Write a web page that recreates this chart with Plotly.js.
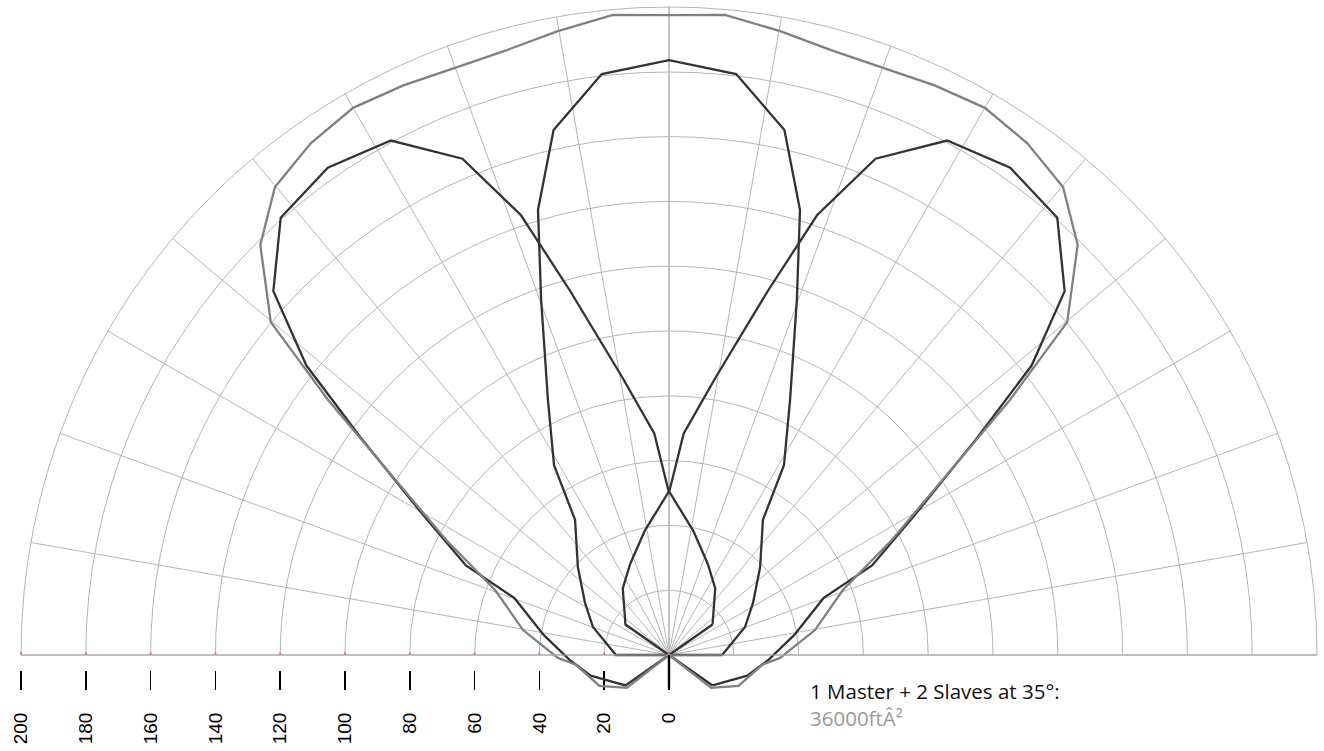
<!DOCTYPE html>
<html>
<head>
<meta charset="utf-8">
<script src="https://cdn.plot.ly/plotly-3.0.1.min.js"></script>
<style>html,body{margin:0;padding:0;background:#fff;}#chart{width:1324px;height:751px;}</style>
</head>
<body>
<div id="chart"></div>
<script>
// ---- data ----
const radialTickVals = [0, 20, 40, 60, 80, 100, 120, 140, 160, 180, 200];
const radialTickText = ["0", "20", "40", "60", "80", "100", "120", "140", "160", "180", "200"];

const centerTheta = [0, 20.2, 31.8, 44.0, 55.2, 58.8, 64.6, 70.2, 73.6, 77.6, 83.4, 90, 96.6, 102.4, 106.4, 109.8, 115.4, 121.2, 124.8, 136.0, 148.2, 159.8, 180, 0];
const centerR     = [16.4, 25.0, 30.5, 39.1, 50.8, 68.5, 87.1, 116.5, 143.2, 165.9, 180.5, 183.6, 180.5, 165.9, 143.2, 116.5, 87.1, 68.5, 50.8, 39.1, 30.5, 25.0, 16.4, 16.4];

const rightTheta = [-35, -14.8, -3.2, 9.0, 20.2, 23.8, 29.6, 35.2, 38.6, 42.6, 48.4, 55, 61.6, 67.4, 71.4, 74.8, 80.4, 86.2, 89.8, 101.0, 113.2, 124.8, 145, -35];
const rightR     = [16.4, 25.0, 30.5, 39.1, 50.8, 68.5, 87.1, 116.5, 143.2, 165.9, 180.5, 183.6, 180.5, 165.9, 143.2, 116.5, 87.1, 68.5, 50.8, 39.1, 30.5, 25.0, 16.4, 16.4];

const leftTheta = [35, 55.2, 66.8, 79.0, 90.2, 93.8, 99.6, 105.2, 108.6, 112.6, 118.4, 125, 131.6, 137.4, 141.4, 144.8, 150.4, 156.2, 159.8, 171.0, 183.2, 194.8, 215, 35];
const leftR     = [16.4, 25.0, 30.5, 39.1, 50.8, 68.5, 87.1, 116.5, 143.2, 165.9, 180.5, 183.6, 180.5, 165.9, 143.2, 116.5, 87.1, 68.5, 50.8, 39.1, 30.5, 25.0, 16.4, 16.4];

const envTheta = [0, -38, -24, -6, -1.5, 9.7, 20.5, 27.3, 36.8, 39.9, 45.1, 49.9, 55.0, 60.0, 65, 69.9, 75.0, 79.9, 85.0, 90, 95, 100.1, 105, 110.1, 115, 120, 125, 130.1, 134.9, 140.1, 143.2, 152.7, 159.5, 170.3, 181.5, 186, 204, 218, 0];
const envR     = [0, 16.5, 23.5, 28.9, 34.3, 45.7, 57.3, 77.4, 131.4, 160.2, 178.7, 188.8, 192.8, 195.0, 194, 192.9, 193.3, 195.6, 198.3, 197.5, 198.3, 195.6, 193.3, 192.9, 194, 195.0, 192.8, 188.8, 178.7, 160.2, 131.4, 77.4, 57.3, 45.7, 34.3, 28.9, 23.5, 16.5, 0];

const titleLine = "1 Master + 2 Slaves at 35°:";
const areaLine = "36000ftÂ²";

// ---- geometry of the page ----
const W = 1324, H = 751;
const cx = 669, cy = 655, R = 648;          // centre and outer radius in px
const rMax = 200, innerRMax = 40;
const px = v => v / W, py = v => (H - v) / H;

const gridColor = '#b5b5b5';
const lobeStyle = {color: '#333333', width: 2.3};
const envStyle = {color: '#808080', width: 2.3};

const traces = [
  {type: 'scatter', x: [], y: [], xaxis: 'x', yaxis: 'y', showlegend: false, hoverinfo: 'skip'},
  {type: 'scatterpolar', subplot: 'polar2', mode: 'lines', r: leftR, theta: leftTheta, line: lobeStyle, cliponaxis: false, showlegend: false},
  {type: 'scatterpolar', subplot: 'polar2', mode: 'lines', r: rightR, theta: rightTheta, line: lobeStyle, cliponaxis: false, showlegend: false},
  {type: 'scatterpolar', subplot: 'polar2', mode: 'lines', r: centerR, theta: centerTheta, line: lobeStyle, cliponaxis: false, showlegend: false},
  {type: 'scatterpolar', subplot: 'polar2', mode: 'lines', r: envR, theta: envTheta, line: envStyle, cliponaxis: false, showlegend: false}
];

const innerR = R * innerRMax / rMax;
const layout = {
  width: W, height: H,
  margin: {l: 0, r: 0, t: 0, b: 0},
  paper_bgcolor: '#ffffff',
  plot_bgcolor: 'rgba(0,0,0,0)',
  showlegend: false,
  font: {family: 'Liberation Sans, Arial, sans-serif', color: '#000'},
  xaxis: {
    domain: [px(cx - R), px(cx + R)],
    range: [rMax, -rMax],
    anchor: 'free', position: py(670),
    showgrid: false, showline: false,
    zeroline: true, zerolinecolor: '#d2d2d2', zerolinewidth: 2,
    ticks: 'outside', ticklen: 19, tickwidth: 1.6, tickcolor: '#000',
    tickmode: 'array', tickvals: radialTickVals, ticktext: radialTickText,
    tickangle: -90, ticklabelstandoff: 15,
    tickfont: {family: 'Liberation Sans, Arial, sans-serif', size: 19, color: '#000'},
    fixedrange: true
  },
  yaxis: {
    domain: [py(cy + 10 * R / rMax), py(cy - R)],
    range: [-10, rMax],
    showgrid: false, showline: false, showticklabels: false, ticks: '',
    zeroline: true, zerolinecolor: '#d9d9d9', zerolinewidth: 2,
    fixedrange: true
  },
  polar: {
    domain: {x: [px(cx - innerR), px(cx + innerR)], y: [py(cy), py(cy - innerR)]},
    sector: [0, 180],
    bgcolor: 'rgba(0,0,0,0)',
    radialaxis: {range: [0, innerRMax], visible: false, showgrid: false, showline: false, showticklabels: false, ticks: ''},
    angularaxis: {tickmode: 'linear', tick0: 0, dtick: 5, showgrid: true, gridcolor: gridColor, gridwidth: 1,
                  showline: false, showticklabels: false, ticks: ''}
  },
  polar2: {
    domain: {x: [px(cx - R), px(cx + R)], y: [py(cy), py(cy - R)]},
    sector: [0, 180],
    bgcolor: 'rgba(0,0,0,0)',
    radialaxis: {range: [0, rMax], angle: 180, tickmode: 'linear', tick0: 0, dtick: 20, showgrid: true, gridcolor: gridColor, gridwidth: 1,
                 showline: false, showticklabels: false, ticks: 'outside', ticklen: 2, tickwidth: 2, tickcolor: '#e46a6a'},
    angularaxis: {tickmode: 'linear', tick0: 0, dtick: 10, showgrid: true, gridcolor: gridColor, gridwidth: 1,
                  showline: true, linecolor: gridColor, linewidth: 1, showticklabels: false, ticks: ''}
  },
  shapes: [
    {type: 'line', xref: 'x', yref: 'y', x0: 0, x1: 0, y0: 0, y1: -10, line: {color: '#000', width: 2.4}, layer: 'above'}
  ],
  annotations: [
    {xref: 'paper', yref: 'paper', x: px(808), y: py(704), xanchor: 'left', yanchor: 'middle', showarrow: false, align: 'left',
     text: titleLine + '<br><span style="color:#9a9a9a">' + areaLine + '</span>',
     font: {family: 'Open Sans, sans-serif', size: 20.5, color: '#111'}}
  ]
};

Plotly.newPlot('chart', traces, layout, {displayModeBar: false, staticPlot: true}).then(function () {
  // let the patterns run below the baseline as in the reference (no clipping to the sector)
  document.querySelectorAll('#chart .polarlayer .frontplot, #chart .polarlayer .frontplot *').forEach(function (el) {
    el.removeAttribute('clip-path');
  });
});
</script>
</body>
</html>
